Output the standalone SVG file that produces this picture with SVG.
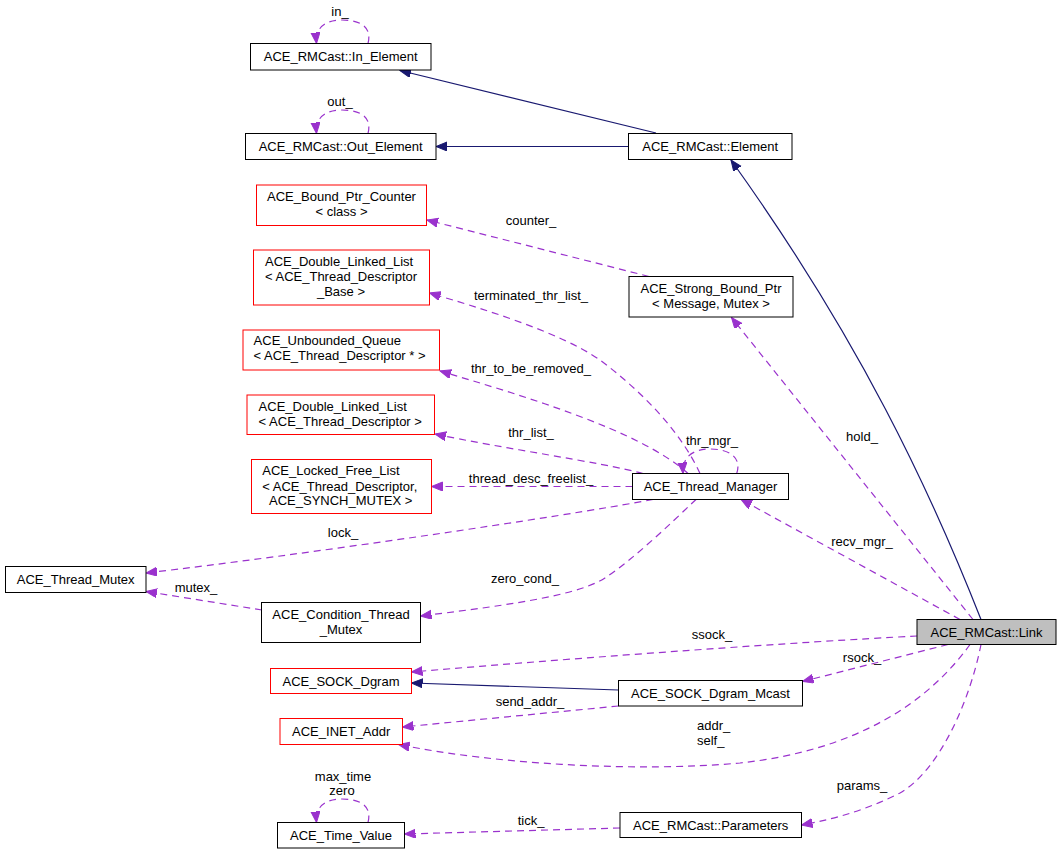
<svg xmlns="http://www.w3.org/2000/svg" width="1061" height="855" viewBox="0 0 1061 855">
<defs>
<style>
text{font-family:"Liberation Sans",Arial,sans-serif;font-size:13px;fill:#000}
.c{text-anchor:middle}
.s{text-anchor:start}
.box{fill:#fff;stroke:#000;stroke-width:1}
.red{fill:#fff;stroke:#ff0000;stroke-width:1}
.cur{fill:#bfbfbf;stroke:#000;stroke-width:1}
.inh{fill:none;stroke:#191970;stroke-width:1.2;marker-end:url(#an)}
.use{fill:none;stroke:#9a32cd;stroke-width:1.2;stroke-dasharray:7,5;marker-end:url(#ap)}
</style>
<marker id="an" markerUnits="userSpaceOnUse" markerWidth="12" markerHeight="10" refX="11" refY="4.5" orient="auto">
<path d="M0,0 L11,4.5 L0,9 z" fill="#191970" stroke="#191970"/>
</marker>
<marker id="ap" markerUnits="userSpaceOnUse" markerWidth="12" markerHeight="10" refX="11" refY="4.5" orient="auto">
<path d="M0,0 L11,4.5 L0,9 z" fill="#9a32cd" stroke="#9a32cd"/>
</marker>
</defs>
<rect width="1061" height="855" fill="#fff"/>

<g id="connectors">
<path class="inh" d="M656,133 L400,70.5"/>
<path class="inh" d="M628.5,146.5 L436,146.5"/>
<path class="inh" d="M981,619.5 C930,490 860,340 731,160"/>
<path class="inh" d="M618.5,690 L411.5,683"/>
<path class="use" d="M368,43.5 C372,28 362,20 342,20 C326,20 315,27 316.5,43.5"/>
<path class="use" d="M368,133.5 C372,118 362,110 342,110 C326,110 315,117 316.5,133.5"/>
<path class="use" d="M649,276.5 L427,220"/>
<path class="use" d="M700,473.5 C680,430 640,390 600,360 C560,332 480,308 429.5,293"/>
<path class="use" d="M688,473.5 C640,430 520,395 440,371"/>
<path class="use" d="M643,473.5 C600,462 500,448 435,434"/>
<path class="use" d="M632.5,486.5 L431.5,486.5"/>
<path class="use" d="M736.7,473.5 C742,458 730,449 710,449 C694,449 682,456 683,473.5"/>
<path class="use" d="M653,499.5 C560,517 300,555 146,573"/>
<path class="use" d="M696,499.5 C670,524 635,558 605,578 C580,594 520,604 420.5,616"/>
<path class="use" d="M973,619.5 L731.5,317.5"/>
<path class="use" d="M960,619.5 L741,499.5"/>
<path class="use" d="M917,636 C800,642 600,656 411.5,672"/>
<path class="use" d="M948,644.5 L802.5,681.5"/>
<path class="use" d="M618.5,706 L402.5,727"/>
<path class="use" d="M970,644.5 C930,700 860,750 740,763 C640,772 500,765 398.5,744.5"/>
<path class="use" d="M981,644.5 C970,700 940,770 900,793 C870,808 840,818 801.5,825"/>
<path class="use" d="M620,828 L404.5,834"/>
<path class="use" d="M368,822.5 C372,807 362,799 342,799 C326,799 315,806 316.5,822.5"/>
<path class="use" d="M262,610 L146,591.5"/>
<text class="c" x="340" y="16">in_</text>
<text class="c" x="340" y="106">out_</text>
<text class="c" x="531" y="224.5">counter_</text>
<text class="c" x="531" y="299.5">terminated_thr_list_</text>
<text class="c" x="531" y="372.5">thr_to_be_removed_</text>
<text class="c" x="531" y="436.5">thr_list_</text>
<text class="c" x="531" y="483">thread_desc_freelist_</text>
<text class="c" x="712" y="445">thr_mgr_</text>
<text class="c" x="862" y="440.5">hold_</text>
<text class="c" x="343" y="537">lock_</text>
<text class="c" x="525" y="583">zero_cond_</text>
<text class="c" x="196" y="592">mutex_</text>
<text class="c" x="862" y="545.5">recv_mgr_</text>
<text class="c" x="712" y="638.5">ssock_</text>
<text class="c" x="862" y="661.5">rsock_</text>
<text class="c" x="530" y="706">send_addr_</text>
<text class="s" x="697" y="729.5">addr_</text>
<text class="s" x="697" y="745">self_</text>
<text class="c" x="862" y="789.5">params_</text>
<text class="c" x="343" y="780.5">max_time</text>
<text class="c" x="342" y="795">zero</text>
<text class="c" x="531" y="824.5">tick_</text>
</g>

<g id="in_element"><rect class="box" x="250.5" y="43.5" width="180.5" height="26.5"/><text class="c" x="340.7" y="61.2">ACE_RMCast::In_Element</text></g>
<g id="out_element"><rect class="box" x="245.5" y="133.5" width="190.5" height="26"/><text class="c" x="340.7" y="151">ACE_RMCast::Out_Element</text></g>
<g id="element"><rect class="box" x="628.5" y="133.5" width="163.5" height="26"/><text class="c" x="710.2" y="151">ACE_RMCast::Element</text></g>
<g id="bound_ptr_counter"><rect class="red" x="256.5" y="185" width="170" height="40.5"/><text class="c" x="341.5" y="201.2">ACE_Bound_Ptr_Counter</text><text class="c" x="341.5" y="216.2">&lt; class &gt;</text></g>
<g id="dll_base"><rect class="red" x="253.5" y="250" width="176" height="55"/><text class="s" x="265" y="266.2">ACE_Double_Linked_List</text><text class="s" x="265" y="281.2">&lt; ACE_Thread_Descriptor</text><text class="c" x="341" y="295.5">_Base &gt;</text></g>
<g id="unbounded_queue"><rect class="red" x="243" y="330" width="196.5" height="40"/><text class="s" x="253.6" y="345.2">ACE_Unbounded_Queue</text><text class="s" x="253.6" y="360.2">&lt; ACE_Thread_Descriptor * &gt;</text></g>
<g id="dll_td"><rect class="red" x="247" y="395" width="187.5" height="39.5"/><text class="s" x="258.6" y="411.2">ACE_Double_Linked_List</text><text class="s" x="258.6" y="426.2">&lt; ACE_Thread_Descriptor &gt;</text></g>
<g id="locked_free_list"><rect class="red" x="251.5" y="459.5" width="180" height="54"/><text class="s" x="262.3" y="475.2">ACE_Locked_Free_List</text><text class="s" x="262.3" y="491">&lt; ACE_Thread_Descriptor,</text><text class="s" x="269" y="505.2">ACE_SYNCH_MUTEX &gt;</text></g>
<g id="strong_bound_ptr"><rect class="box" x="629" y="276.5" width="164" height="40.5"/><text class="c" x="711" y="292.8">ACE_Strong_Bound_Ptr</text><text class="c" x="711" y="307.8">&lt; Message, Mutex &gt;</text></g>
<g id="thread_manager"><rect class="box" x="632.5" y="473.5" width="156" height="26"/><text class="c" x="710.5" y="491">ACE_Thread_Manager</text></g>
<g id="thread_mutex"><rect class="box" x="5.5" y="566.5" width="140.5" height="26"/><text class="c" x="75.7" y="584">ACE_Thread_Mutex</text></g>
<g id="condition_thread_mutex"><rect class="box" x="261.5" y="602.5" width="159" height="40"/><text class="c" x="341" y="618.5">ACE_Condition_Thread</text><text class="c" x="341" y="633.5">_Mutex</text></g>
<g id="link"><rect class="cur" x="917" y="619.5" width="139" height="25"/><text class="c" x="986.5" y="636.5">ACE_RMCast::Link</text></g>
<g id="sock_dgram"><rect class="red" x="270.5" y="668.5" width="141" height="25"/><text class="c" x="341" y="685.5">ACE_SOCK_Dgram</text></g>
<g id="sock_dgram_mcast"><rect class="box" x="618.5" y="680.5" width="184" height="25.5"/><text class="c" x="710.5" y="697.8">ACE_SOCK_Dgram_Mcast</text></g>
<g id="inet_addr"><rect class="red" x="280" y="718.5" width="122.5" height="26"/><text class="c" x="341.2" y="736">ACE_INET_Addr</text></g>
<g id="time_value"><rect class="box" x="277.5" y="822.5" width="127" height="25.5"/><text class="c" x="341" y="839.8">ACE_Time_Value</text></g>
<g id="parameters"><rect class="box" x="620" y="812.5" width="181.5" height="25"/><text class="c" x="710.7" y="829.5">ACE_RMCast::Parameters</text></g>
</svg>
